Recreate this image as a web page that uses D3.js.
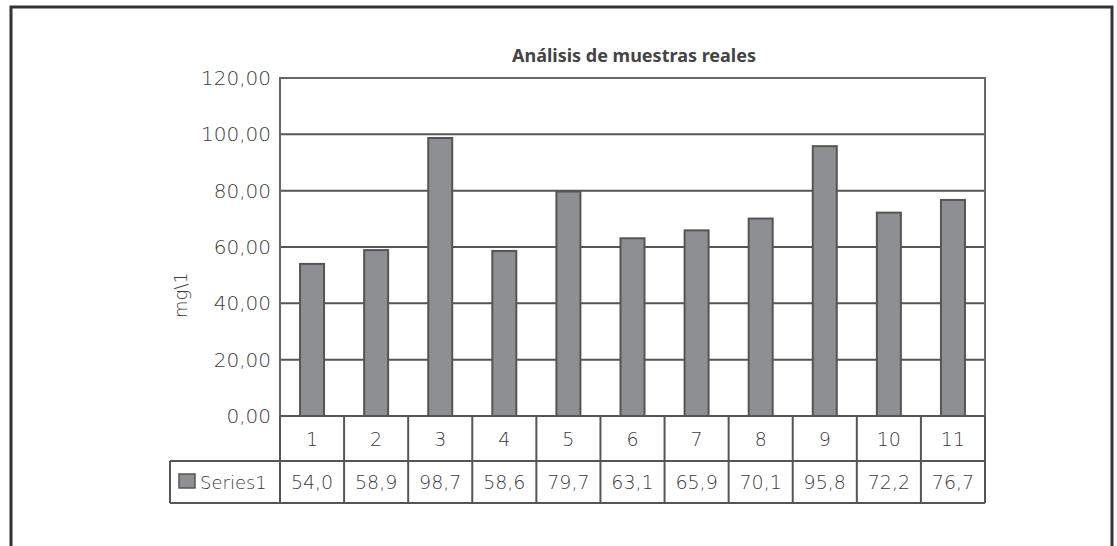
<!DOCTYPE html>
<html lang="es">
<head>
<meta charset="UTF-8">
<script src="https://cdnjs.cloudflare.com/ajax/libs/d3/7.8.5/d3.min.js"></script>
<style>
  body { margin: 0; background: #fff; }
  text { font-family: "DejaVu Sans", "Noto Sans", sans-serif; font-weight: 200; fill: #3a3a3a; }
</style>
</head>
<body>
<script>
    var categories = ["1", "2", "3", "4", "5", "6", "7", "8", "9", "10", "11"];
    var values = [54.0, 58.9, 98.7, 58.6, 79.7, 63.1, 65.9, 70.1, 95.8, 72.2, 76.7];
    var yTicks = [0, 20, 40, 60, 80, 100, 120];
    var seriesName = "Series1";
    var title = "Análisis de muestras reales";
    var yLabel = "mg\\1";

    var width = 1117, height = 546;
    var plotLeft = 280, plotRight = 985, plotTop = 78, plotBottom = 416;
    var catRow = 45, valRow = 42, legendLeft = 170;

    var svg = d3.select("body").append("svg")
        .attr("width", width)
        .attr("height", height);

    // outer frame (open at the bottom)
    svg.append("path")
        .attr("d", "M11,546 V7 H1112 V546")
        .attr("fill", "none")
        .attr("stroke", "#333")
        .attr("stroke-width", 3);

    var x = d3.scaleBand()
        .domain(categories)
        .range([plotLeft, plotRight]);

    var y = d3.scaleLinear()
        .domain([0, 120])
        .range([plotBottom, plotTop]);

    var fmt = function (d) { return d3.format(".2f")(d).replace(".", ","); };

    // gridlines
    svg.append("g").selectAll("line")
        .data(yTicks)
        .enter().append("line")
        .attr("x1", plotLeft).attr("x2", plotRight)
        .attr("y1", function (d) { return y(d); })
        .attr("y2", function (d) { return y(d); })
        .attr("stroke", "#555")
        .attr("stroke-width", 2);

    // plot border
    svg.append("rect")
        .attr("x", plotLeft).attr("y", plotTop)
        .attr("width", plotRight - plotLeft)
        .attr("height", plotBottom - plotTop)
        .attr("fill", "none")
        .attr("stroke", "#666")
        .attr("stroke-width", 2);

    // y tick labels
    svg.append("g").selectAll("text")
        .data(yTicks)
        .enter().append("text")
        .attr("x", plotLeft - 9)
        .attr("y", function (d) { return y(d) + 7; })
        .attr("text-anchor", "end")
        .attr("font-size", 20)
        .text(fmt);

    // bars
    var barW = 24;
    svg.append("g").selectAll("rect")
        .data(values)
        .enter().append("rect")
        .attr("x", function (d, i) { return x(categories[i]) + x.bandwidth() / 2 - barW / 2; })
        .attr("y", function (d) { return y(d); })
        .attr("width", barW)
        .attr("height", function (d) { return y(0) - y(d); })
        .attr("fill", "#8e8f92")
        .attr("stroke", "#555")
        .attr("stroke-width", 2);

    // data table
    var t = svg.append("g").attr("stroke", "#555").attr("stroke-width", 2).attr("fill", "none");
    var rowTop = plotBottom, rowMid = plotBottom + catRow, rowBot = rowMid + valRow;
    t.append("line").attr("x1", plotLeft).attr("x2", plotRight).attr("y1", rowTop).attr("y2", rowTop);
    t.append("line").attr("x1", legendLeft).attr("x2", plotRight).attr("y1", rowMid).attr("y2", rowMid);
    t.append("line").attr("x1", legendLeft).attr("x2", plotRight).attr("y1", rowBot).attr("y2", rowBot);
    t.append("line").attr("x1", legendLeft).attr("x2", legendLeft).attr("y1", rowMid).attr("y2", rowBot);
    t.selectAll("line.col")
        .data(categories.concat(["end"]))
        .enter().append("line")
        .attr("class", "col")
        .attr("x1", function (d, i) { return plotLeft + i * x.bandwidth(); })
        .attr("x2", function (d, i) { return plotLeft + i * x.bandwidth(); })
        .attr("y1", rowTop).attr("y2", rowBot);

    svg.append("g").selectAll("text")
        .data(categories)
        .enter().append("text")
        .attr("x", function (d) { return x(d) + x.bandwidth() / 2; })
        .attr("y", rowTop + 30)
        .attr("text-anchor", "middle")
        .attr("font-size", 19)
        .text(function (d) { return d; });

    svg.append("g").selectAll("text")
        .data(values)
        .enter().append("text")
        .attr("x", function (d, i) { return x(categories[i]) + x.bandwidth() / 2; })
        .attr("y", rowMid + 28)
        .attr("text-anchor", "middle")
        .attr("font-size", 19)
        .text(function (d) { return d3.format(".1f")(d).replace(".", ","); });

    // legend in table
    svg.append("rect")
        .attr("x", legendLeft + 9).attr("y", rowMid + 13)
        .attr("width", 16).attr("height", 14)
        .attr("fill", "#8e8f92").attr("stroke", "#555").attr("stroke-width", 1.5);
    svg.append("text")
        .attr("x", legendLeft + 30).attr("y", rowMid + 28)
        .attr("font-size", 18)
        .text(seriesName);

    // title
    svg.append("text")
        .attr("x", 634).attr("y", 62)
        .attr("text-anchor", "middle")
        .attr("font-size", 18)
        .style("font-family", "'Noto Sans', sans-serif")
        .style("font-weight", "bold")
        .style("fill", "#444")
        .text(title);

    // y axis label
    svg.append("text")
        .attr("transform", "translate(187," + ((plotTop + plotBottom) / 2 + 48) + ") rotate(-90)")
        .attr("text-anchor", "middle")
        .attr("font-size", 18)
        .text(yLabel);
</script>
</body>
</html>
